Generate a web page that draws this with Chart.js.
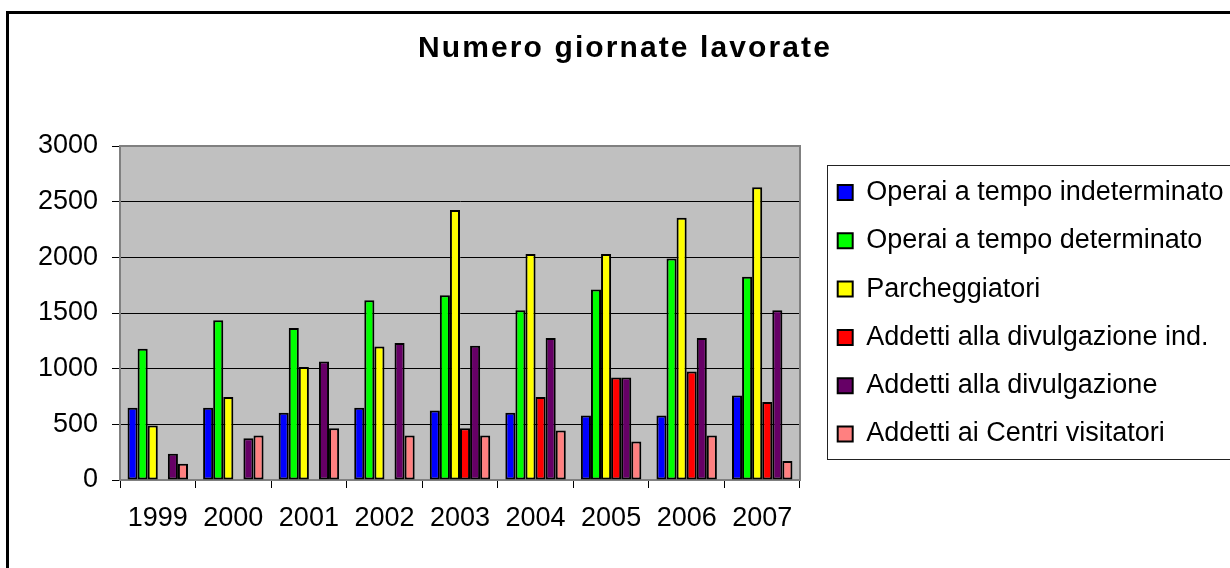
<!DOCTYPE html>
<html><head><meta charset="utf-8">
<script src="https://cdn.jsdelivr.net/npm/chart.js@4/dist/chart.umd.min.js"></script>
<style>html,body{margin:0;padding:0;background:#fff;overflow:hidden}#wrap{position:relative;width:1230px;height:568px}</style>
</head><body><div id="wrap"><canvas id="c" width="1230" height="568"></canvas></div>
<script>
const years = ['1999','2000','2001','2002','2003','2004','2005','2006','2007'];
const operaiIndeterminato = [650, 650, 605, 650, 625, 605, 580, 580, 760];
const operaiDeterminato = [1180, 1435, 1365, 1615, 1660, 1525, 1710, 1990, 1825];
const parcheggiatori = [490, 745, 1015, 1200, 2425, 2030, 2030, 2355, 2630];
const divulgazioneInd = [null, null, null, null, 465, 745, 920, 975, 700];
const divulgazione = [235, 375, 1065, 1230, 1205, 1275, 920, 1275, 1525];
const centriVisitatori = [145, 400, 465, 400, 400, 445, 345, 400, 170];
const yTickValues = ['0','500','1000','1500','2000','2500','3000'];

const FONT = "'Liberation Sans', Arial, sans-serif";
const LEG_PAD = 21.3;
const LEG_FONT = 27;

const framePlugin = {
  id: 'frame',
  afterLayout(chart) {
    const lg = chart.legend;
    if (lg) {
      lg.left = 837.7 - LEG_PAD; lg.top = 192.5 - LEG_PAD - LEG_FONT / 2; lg.right = 1230; lg.bottom = 568;
      lg.width = lg.right - lg.left; lg.height = lg.bottom - lg.top;
    }
    const tb = chart.titleBlock;
    if (tb) {
      tb.left = 0; tb.right = 1250; tb.width = 1250;
      if (!tb._wrapped) {
        const orig = tb.draw.bind(tb);
        tb.draw = function(a) { const c = tb.ctx; c.save(); c.letterSpacing = '2.1px'; orig(a); c.restore(); };
        tb._wrapped = true;
      }
    }
  },
  beforeDraw(chart) {
    const ctx = chart.ctx, a = chart.chartArea;
    ctx.save();
    ctx.fillStyle = '#fff'; ctx.fillRect(0, 0, chart.width, chart.height);
    ctx.fillStyle = '#C0C0C0'; ctx.fillRect(a.left, a.top, a.right - a.left, a.bottom - a.top);
    ctx.strokeStyle = '#000'; ctx.lineWidth = 3; ctx.strokeRect(7.5, 12.5, 1400, 700);
    ctx.strokeStyle = '#222'; ctx.lineWidth = 1; ctx.strokeRect(827.5, 165.5, 600, 294);
    ctx.restore();
  },
  beforeDatasetsDraw(chart) {
    const ctx = chart.ctx, a = chart.chartArea;
    ctx.save();
    ctx.strokeStyle = '#808080'; ctx.lineWidth = 2;
    ctx.strokeRect(a.left, a.top, a.right - a.left, a.bottom - a.top);
    ctx.restore();
  }
};

function ds(label, data, color) {
  return { label, data, backgroundColor: color, borderColor: '#000', borderWidth: 2, borderSkipped: false,
           categoryPercentage: 0.8, barPercentage: 1.0 };
}

new Chart(document.getElementById('c'), {
  type: 'bar',
  data: {
    labels: years,
    datasets: [
      ds('Operai a tempo indeterminato', operaiIndeterminato, '#0000FF'),
      ds('Operai a tempo determinato', operaiDeterminato, '#00FF00'),
      ds('Parcheggiatori', parcheggiatori, '#FFFF00'),
      ds('Addetti alla divulgazione ind.', divulgazioneInd, '#FF0000'),
      ds('Addetti alla divulgazione', divulgazione, '#660066'),
      ds('Addetti ai Centri visitatori', centriVisitatori, '#FF8080')
    ]
  },
  options: {
    responsive: false, animation: false, devicePixelRatio: 1,
    layout: { padding: { left: 0, right: 430, top: 0, bottom: 0 } },
    plugins: {
      title: { display: true, text: 'Numero giornate lavorate', color: '#000',
               font: { family: FONT, size: 30, weight: 'bold' }, padding: { top: 31, bottom: 79 } },
      legend: { display: true, position: 'chartArea', align: 'start',
                labels: { font: { family: FONT, size: LEG_FONT }, color: '#000', boxWidth: 15, boxHeight: 15, padding: LEG_PAD } },
      tooltip: { enabled: false }
    },
    scales: {
      x: {
        grid: { display: true, drawOnChartArea: false, drawTicks: true, tickLength: 8, tickColor: '#000', offset: true },
        border: { color: '#808080', width: 2 },
        ticks: { font: { family: FONT, size: 27 }, color: '#000', padding: 14, maxRotation: 0 },
        afterFit(s) { s.height = 88; }
      },
      y: {
        min: 0, max: 3000,
        grid: { color: '#000', lineWidth: 1, tickLength: 8, tickColor: '#000' },
        border: { color: '#808080', width: 2 },
        ticks: { stepSize: 500, font: { family: FONT, size: 27 }, color: '#000', padding: 14,
                 callback: (v) => yTickValues[yTickValues.indexOf(String(v))] },
        afterFit(s) { s.width = 120; }
      }
    }
  },
  plugins: [framePlugin]
});
</script>
</body></html>
